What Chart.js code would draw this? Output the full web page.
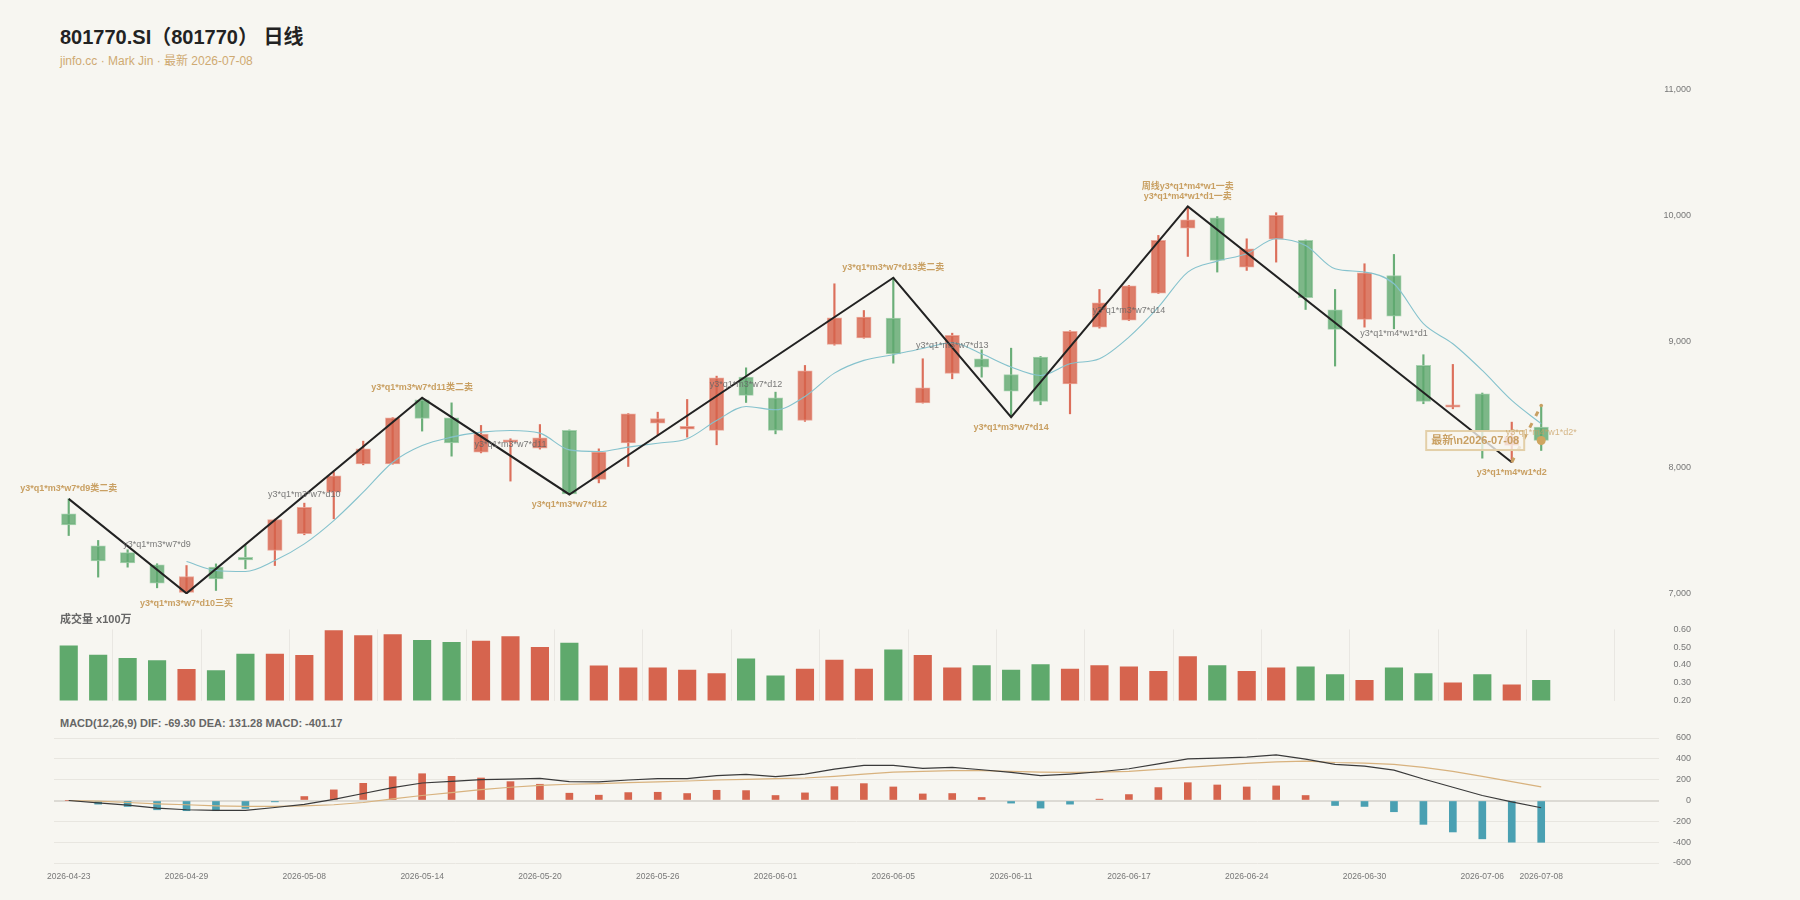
<!DOCTYPE html>
<html>
<head>
<meta charset="utf-8">
<script src="https://cdn.jsdelivr.net/npm/chart.js@4.4.1/dist/chart.umd.min.js"></script>
<style>
  body { margin: 0; background: #f7f6f1; width: 1800px; height: 900px; overflow: hidden; position: relative;
         font-family: "Liberation Sans", "Noto Sans CJK SC", sans-serif; }
  canvas { position: absolute; left: 0; }
  #title { position: absolute; left: 60px; top: 21px; font-size: 20px; font-weight: bold; color: #222; }
  #sub { position: absolute; left: 60px; top: 51px; font-size: 12px; color: #cfaa72; }
  #volT { position: absolute; left: 60px; top: 610px; font-size: 11px; font-weight: bold; color: #666; }
  #macdT { position: absolute; left: 60px; top: 717px; font-size: 11px; font-weight: bold; color: #666; }
</style>
</head>
<body>
<div id="title">801770.SI（801770） 日线</div>
<div id="sub">jinfo.cc · Mark Jin · 最新 2026-07-08</div>
<canvas id="price" width="1800" height="534" style="top:79.5px"></canvas>
<div id="volT">成交量 x100万</div>
<canvas id="vol" width="1800" height="90" style="top:620px"></canvas>
<div id="macdT">MACD(12,26,9) DIF: -69.30 DEA: 131.28 MACD: -401.17</div>
<canvas id="macd" width="1800" height="172" style="top:728px"></canvas>
<script>
// ---- data ----
const dates = ['2026-04-23','2026-04-24','2026-04-27','2026-04-28','2026-04-29','2026-04-30',
  '2026-05-06','2026-05-07','2026-05-08','2026-05-11','2026-05-12','2026-05-13','2026-05-14','2026-05-15',
  '2026-05-18','2026-05-19','2026-05-20','2026-05-21','2026-05-22','2026-05-25','2026-05-26','2026-05-27',
  '2026-05-28','2026-05-29','2026-06-01','2026-06-02','2026-06-03','2026-06-04','2026-06-05','2026-06-08',
  '2026-06-09','2026-06-10','2026-06-11','2026-06-12','2026-06-15','2026-06-16','2026-06-17','2026-06-18',
  '2026-06-22','2026-06-23','2026-06-24','2026-06-25','2026-06-26','2026-06-29','2026-06-30','2026-07-01',
  '2026-07-02','2026-07-03','2026-07-06','2026-07-07','2026-07-08'];

const openP  = [7636,7382,7329,7232,7012,7213,7292,7345,7478,7808,8033,8033,8541,8398,8126,8205,8158,8298,7909,8200,
  8356,8308,8298,8721,8557,8377,8981,9033,9190,8517,8750,8867,8742,8880,8668,9118,9174,9388,9904,9986,
  9594,9817,9806,9256,9179,9528,8814,8483,8589,8180,8324];
const highP  = [7755,7425,7351,7240,7226,7239,7385,7595,7721,7967,8213,8400,8557,8517,8338,8232,8345,8302,8152,8432,
  8443,8544,8729,8795,8602,8814,9462,9250,9510,8867,9070,8938,8951,8885,9090,9417,9450,9846,10076,9995,
  9819,10026,9810,9417,9621,9695,8899,8822,8595,8364,8496];
const lowP   = [7464,7134,7213,7049,7005,7028,7200,7226,7470,7597,8025,8030,8293,8094,8120,7896,8150,7790,7882,8012,
  8258,8245,8184,8520,8271,8370,8975,9030,8832,8515,8708,8721,8404,8502,8430,9110,9170,9385,9679,9555,
  9568,9634,9258,8809,9118,9105,8510,8470,8078,8046,8139];
const closeP = [7549,7263,7247,7086,7139,7120,7271,7591,7687,7938,8152,8398,8393,8200,8269,8224,8240,7795,8126,8430,
  8393,8330,8716,8576,8298,8771,9192,9197,8906,8637,9052,8801,8610,8528,9084,9311,9446,9806,9970,9647,
  9740,10005,9351,9100,9549,9205,8528,8502,8293,8250,8218];

const volume = [0.508,0.456,0.438,0.425,0.375,0.368,0.462,0.462,0.455,0.594,0.565,0.571,0.539,0.528,0.534,0.560,0.499,
  0.523,0.396,0.384,0.384,0.371,0.352,0.434,0.339,0.377,0.428,0.377,0.485,0.454,0.384,0.397,0.371,0.403,
  0.377,0.397,0.390,0.365,0.447,0.397,0.365,0.384,0.390,0.346,0.314,0.384,0.352,0.300,0.346,0.289,0.314];

// MA5 starts on the 5th bar
const ma5 = [null,null,null,null,7258,7187,7179,7266,7398,7583,7808,8046,8179,8245,8285,8298,8277,8144,8131,8166,
  8197,8232,8377,8488,8462,8568,8753,8854,8899,8949,8994,8906,8801,8734,8827,8867,9039,9277,9555,9642,
  9700,9819,9766,9581,9555,9462,9145,8986,8774,8536,8351];

const dif = [0,-22,-44,-73,-89,-95,-95,-67,-38,10,67,124,168,184,200,206,213,181,178,197,210,210,238,251,229,254,
  302,337,337,308,318,295,270,238,254,276,305,352,400,406,416,438,397,346,330,292,206,127,48,-13,-69.3];
const dea = [0,-6,-19,-32,-41,-51,-57,-57,-51,-41,-19,16,48,76,105,127,146,156,162,171,178,187,197,203,210,216,
  232,254,273,279,286,286,279,273,270,273,279,298,318,337,356,371,378,365,359,346,318,279,232,181,131.28];
const macdHist = [0,-35,-57,-89,-98,-98,-76,-13,38,102,165,229,257,232,216,181,156,70,51,76,79,67,98,95,48,73,
  133,162,130,63,67,29,-25,-73,-35,13,57,124,171,149,130,140,48,-48,-57,-108,-229,-302,-368,-400,-401.17];

// strokes (笔) turning points and their signals
const pivotIdx = [0,4,12,17,28,32,38,49];
const pivotVal = [7755,7005,8557,7790,9510,8404,10076,8046];
const pivotText = ['y3*q1*m3*w7*d9类二卖','y3*q1*m3*w7*d10三买','y3*q1*m3*w7*d11类二卖','y3*q1*m3*w7*d12',
  'y3*q1*m3*w7*d13类二卖','y3*q1*m3*w7*d14','周线y3*q1*m4*w1一卖|y3*q1*m4*w1*d1一卖','y3*q1*m4*w1*d2'];
const segIdx = [3,8,15,23,30,36,45];
const segVal = [7393,7790,8184,8666,8970,9250,9071];
const segText = ['y3*q1*m3*w7*d9','y3*q1*m3*w7*d10','y3*q1*m3*w7*d11','y3*q1*m3*w7*d12',
  'y3*q1*m3*w7*d13','y3*q1*m3*w7*d14','y3*q1*m4*w1*d1'];
const pendingText = 'y3*q1*m4*w1*d2*';

const FONT = '"Liberation Sans", "Noto Sans CJK SC", sans-serif';
const GOLD = '#c9a063';
const last = dates.length - 1;
const isUp = i => closeP[i] >= openP[i];

// shared x range: a few empty slots after the last bar
const xScale = (show) => ({ type: 'linear', min: -0.5, max: 54, offset: false, bounds: 'data', display: show });
const rightAxis = () => ({ position: 'right', afterFit: s => { s.width = 32; } });
const PAD_R = 109;

const annot = {
  id: 'annot',
  afterDatasetsDraw(chart) {
    const { ctx, scales: { x, y } } = chart;
    ctx.save();
    ctx.textAlign = 'center';
    ctx.textBaseline = 'middle';
    ctx.font = '9px ' + FONT;
    ctx.fillStyle = 'rgba(100,100,100,0.85)';
    segIdx.forEach((i, k) => ctx.fillText(segText[k], x.getPixelForValue(i), y.getPixelForValue(segVal[k])));

    ctx.font = 'bold 9px ' + FONT;
    ctx.fillStyle = GOLD;
    pivotIdx.forEach((i, k) => {
      const px = x.getPixelForValue(i), py = y.getPixelForValue(pivotVal[k]);
      const lines = pivotText[k].split('|');
      if (k % 2 === 0) {
        lines.reverse().forEach((t, j) => ctx.fillText(t, px, py - 10 - j * 9.5));
      } else {
        lines.forEach((t, j) => ctx.fillText(t, px, py + 10 + j * 9.5));
      }
    });

    // latest box
    const lx = x.getPixelForValue(last), ly = y.getPixelForValue(closeP[last]);
    const bx = lx - 66;
    ctx.fillStyle = 'rgba(248,246,240,0.78)';
    ctx.fillRect(bx - 49, ly - 9.5, 98, 19);
    ctx.strokeStyle = '#e3cfa8';
    ctx.lineWidth = 2;
    ctx.strokeRect(bx - 49, ly - 9.5, 98, 19);
    ctx.font = 'bold 11px ' + FONT;
    ctx.fillStyle = GOLD;
    ctx.fillText('最新\\n' + dates[last], bx, ly + 0.5);

    ctx.font = '9px ' + FONT;
    ctx.fillStyle = 'rgba(201,160,99,0.75)';
    ctx.fillText(pendingText, lx, ly - 8);
    ctx.restore();
  }
};

new Chart(document.getElementById('price'), {
  type: 'bar',
  data: {
    datasets: [
      {
        label: 'wick', order: 5, grouped: false, barThickness: 1.5,
        data: dates.map((d, i) => ({ x: i, y: [lowP[i], highP[i]] })),
        backgroundColor: dates.map((d, i) => isUp(i) ? '#dc6f5b' : '#6aae78')
      },
      {
        label: 'K', order: 4, grouped: false, barThickness: 14.5, borderWidth: 1, borderSkipped: false,
        data: dates.map((d, i) => ({ x: i, y: [openP[i], closeP[i]] })),
        backgroundColor: dates.map((d, i) => isUp(i) ? 'rgba(214,98,74,0.82)' : 'rgba(94,168,110,0.8)'),
        borderColor: dates.map((d, i) => isUp(i) ? 'rgba(232,160,145,0.9)' : 'rgba(160,205,168,0.9)')
      },
      {
        type: 'line', label: 'MA5', order: 3,
        data: ma5.map((v, i) => ({ x: i, y: v })).filter(p => p.y !== null),
        borderColor: '#85c2cd', borderWidth: 1.1, pointRadius: 0, cubicInterpolationMode: 'monotone'
      },
      {
        type: 'line', label: 'bi', order: 2,
        data: pivotIdx.map((i, k) => ({ x: i, y: pivotVal[k] })),
        borderColor: '#222', borderWidth: 2, pointRadius: 0, tension: 0
      },
      {
        type: 'line', label: 'pending', order: 1,
        data: [{ x: pivotIdx[pivotIdx.length - 1], y: pivotVal[pivotVal.length - 1] }, { x: last, y: highP[last] }],
        borderColor: GOLD, borderWidth: 3, borderDash: [5, 8], pointRadius: [0, 1.8],
        pointBackgroundColor: GOLD, pointBorderWidth: 0, tension: 0
      },
      {
        type: 'line', label: 'close', order: 0, showLine: false,
        data: [{ x: last, y: closeP[last] }],
        pointRadius: 4.5, pointBackgroundColor: '#cfa661', pointBorderWidth: 0
      }
    ]
  },
  options: {
    responsive: false, animation: false,
    layout: { padding: { left: 54, right: PAD_R, top: 10, bottom: 20 } },
    plugins: { legend: { display: false }, tooltip: { enabled: false } },
    scales: {
      x: xScale(false),
      y: Object.assign(rightAxis(), {
        min: 7000, max: 11000,
        grid: { display: false, drawTicks: false }, border: { display: false },
        ticks: { stepSize: 1000, padding: 4, crossAlign: 'far', color: '#777', font: { size: 9, family: FONT },
          callback: v => v.toLocaleString('en-US') }
      })
    }
  },
  plugins: [annot]
});

new Chart(document.getElementById('vol'), {
  type: 'bar',
  data: {
    datasets: [{
      label: 'vol', barThickness: 17.5,
      data: volume.map((v, i) => ({ x: i, y: v })),
      backgroundColor: volume.map((v, i) => isUp(i) ? '#d6644e' : '#5fa96c')
    }]
  },
  options: {
    responsive: false, animation: false,
    layout: { padding: { left: 54, right: PAD_R, top: 9, bottom: 8.6 } },
    plugins: { legend: { display: false }, tooltip: { enabled: false } },
    scales: {
      x: Object.assign(xScale(true), {
        afterBuildTicks: s => { s.ticks = []; for (let v = 0; v <= 54; v += 3) s.ticks.push({ value: v }); },
        afterFit: s => { s.height = 0; },
        ticks: { display: false }, border: { display: false },
        grid: { drawTicks: false, color: '#e9e7e2' }
      }),
      y: Object.assign(rightAxis(), {
        min: 0.2, max: 0.6,
        grid: { display: false, drawTicks: false }, border: { display: false },
        ticks: { stepSize: 0.1, padding: 4, crossAlign: 'far', color: '#777', font: { size: 9, family: FONT },
          callback: v => v.toFixed(2) }
      })
    }
  }
});

new Chart(document.getElementById('macd'), {
  type: 'bar',
  data: {
    datasets: [
      {
        type: 'line', label: 'DIF', order: 1,
        data: dif.map((v, i) => ({ x: i, y: v })),
        borderColor: '#3a3a3a', borderWidth: 1.2, pointRadius: 0, tension: 0
      },
      {
        type: 'line', label: 'DEA', order: 2,
        data: dea.map((v, i) => ({ x: i, y: v })),
        borderColor: '#d8b27e', borderWidth: 1.2, pointRadius: 0, tension: 0
      },
      {
        label: 'MACD', order: 3, barThickness: 7,
        data: macdHist.map((v, i) => ({ x: i, y: v })),
        backgroundColor: macdHist.map(v => v >= 0 ? '#d6654e' : '#4aa0b2')
      }
    ]
  },
  options: {
    responsive: false, animation: false,
    layout: { padding: { left: 54, right: PAD_R, top: 10, bottom: 0 } },
    plugins: { legend: { display: false }, tooltip: { enabled: false } },
    scales: {
      x: Object.assign(xScale(true), {
        afterBuildTicks: s => { s.ticks = []; for (let v = 0; v < last; v += 4) s.ticks.push({ value: v }); s.ticks.push({ value: last }); },
        afterFit: s => { s.height = 37; },
        grid: { display: false }, border: { display: false },
        ticks: { autoSkip: false, maxRotation: 0, padding: 1, color: '#777', font: { size: 8.5, family: FONT },
          callback: v => dates[v] }
      }),
      y: Object.assign(rightAxis(), {
        min: -600, max: 600,
        border: { display: false },
        grid: { drawTicks: false,
          color: c => c.tick.value === 0 ? '#dcdad4' : '#e8e6e0',
          lineWidth: c => c.tick.value === 0 ? 2 : 1 },
        ticks: { stepSize: 200, padding: 4, crossAlign: 'far', color: '#777', font: { size: 9, family: FONT } }
      })
    }
  }
});
</script>
</body>
</html>
